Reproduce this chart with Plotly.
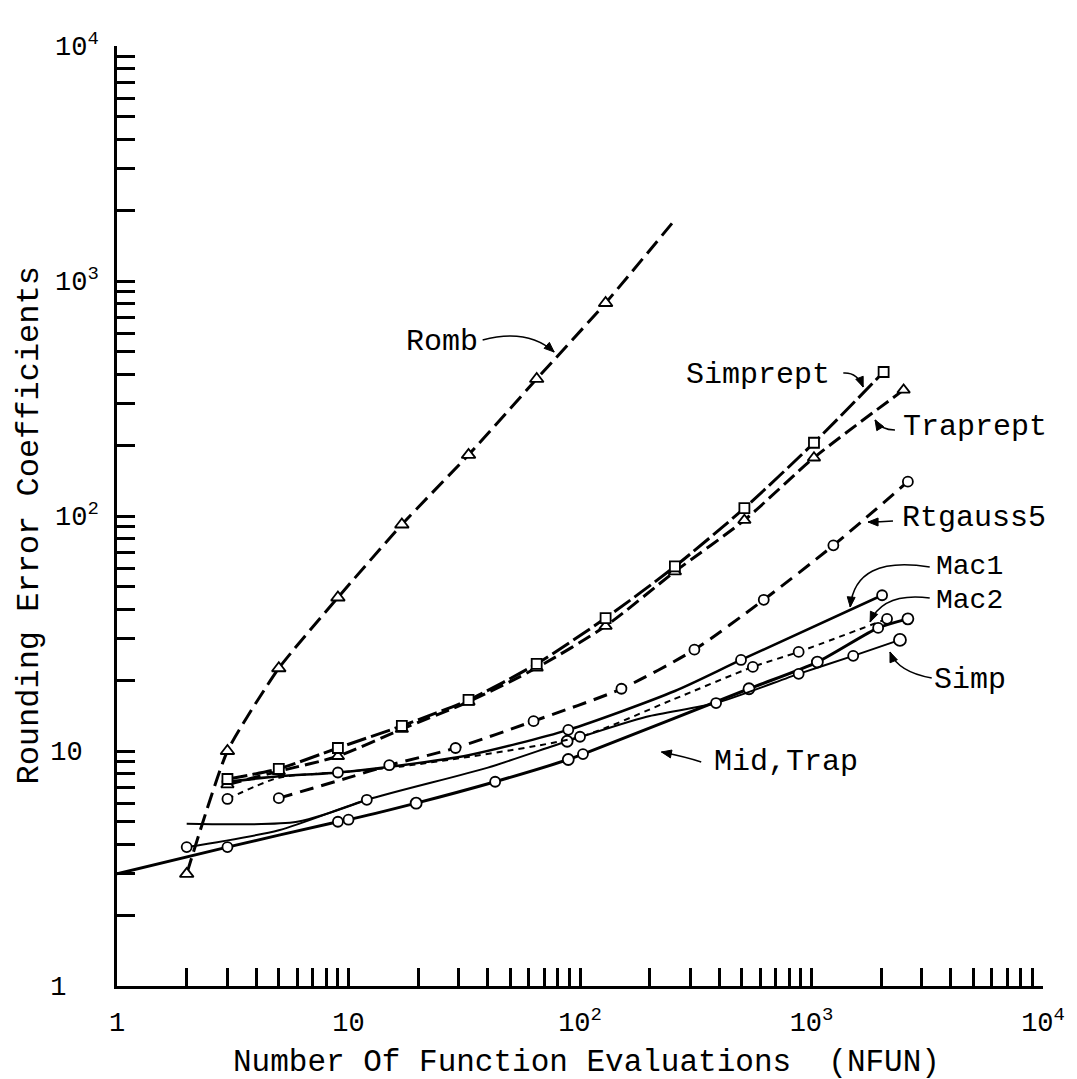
import math
import plotly.graph_objects as go

# ---------------- data ----------------
romb_x = [2, 3, 5, 9, 17, 33, 65, 129, 257]
romb_y = [3.0, 10.0, 22.5, 45, 92, 182, 383, 806, 1820]

simprept_x = [3, 5, 9, 17, 33, 65, 129, 257, 513, 1025, 2049]
simprept_y = [7.6, 8.4, 10.3, 12.8, 16.5, 23.5, 36.8, 61, 108, 205, 410]

traprept_x = [3, 5, 9, 17, 33, 65, 129, 257, 513, 1025, 2500]
traprept_y = [7.2, 8.2, 9.5, 12.4, 16.2, 22.6, 34, 58, 96, 177, 344]

rtgauss5_x = [5, 10, 15, 29, 63, 151, 312, 622, 1243, 2608]
rtgauss5_y = [6.3, 7.7, 8.7, 10.3, 13.4, 18.4, 27, 44, 75, 140]

mac1_x = [3, 5, 9, 17, 33, 89, 257, 496, 2018]
mac1_y = [7.4, 7.8, 8.1, 8.7, 9.6, 12.3, 18, 24.4, 46]

mac2_x = [3, 5, 9, 17, 100, 250, 558, 880, 2120]
mac2_y = [6.25, 7.7, 8.1, 8.6, 11.5, 16.5, 22.8, 26.4, 36.5]

simp_x = [2, 5, 12, 40, 88, 194, 387, 880, 1514, 2410]
simp_y = [3.9, 4.6, 6.2, 8.5, 11.0, 14.0, 16.0, 21.3, 25.4, 29.7]

midtrap_x = [1, 3, 9, 10, 19.6, 43, 89, 103, 537, 1060, 1940, 2608]
midtrap_y = [3.0, 3.9, 5.0, 5.1, 6.0, 7.4, 9.2, 9.7, 18.4, 23.9, 33.4, 36.5]

mid_x = [2, 6, 12]
mid_y = [4.9, 5.0, 6.2]

x_tickvals = [1, 10, 100, 1000, 10000]
x_ticktext = ["1", "10", "10<sup>2</sup>", "10<sup>3</sup>", "10<sup>4</sup>"]
y_tickvals = [1, 10, 100, 1000, 10000]
y_ticktext = ["1\u00a0\u00a0", "10\u00a0", "10<sup>2</sup>", "10<sup>3</sup>", "10<sup>4</sup>"]
minor_vals = [m * 10 ** d for d in range(4) for m in range(2, 10)]

FONT = "Liberation Mono, Courier New, monospace"

# ---------------- geometry helpers (pixel -> paper) ----------------
L, R, T, B = 117, 28, 46, 93
W, H = 1077, 1079
PW, PH = W - L - R, H - T - B


def px(xp):
    return (xp - L) / PW


def py(yp):
    return (T + PH - yp) / PH


fig = go.Figure()


def add_series(x, y, symbol, dash, width, sizes=None, smooth=0.7):
    n = len(x)
    if sizes is None:
        sizes = [11] * n
    fig.add_trace(go.Scatter(
        x=x, y=y, mode="lines+markers" if symbol else "lines",
        line=dict(color="black", width=width, dash=dash, shape="spline",
                  smoothing=smooth),
        marker=dict(symbol=symbol or "circle", size=sizes, color="white",
                    opacity=1,
                    line=dict(color="black", width=1.8)) if symbol else None,
        showlegend=False, hoverinfo="skip"))


add_series(midtrap_x, midtrap_y, "circle", "solid", 3,
           sizes=[0, 10, 10, 10, 11, 10, 11, 10, 11, 11, 10, 11])
add_series(mid_x, mid_y, None, "solid", 2)
add_series(simp_x, simp_y, "circle", "solid", 2,
           sizes=[10, 0, 10, 0, 11, 0, 10, 10, 10, 12])
add_series(mac2_x, mac2_y, "circle", "6px,5px", 2, sizes=[10, 0, 0, 0, 10, 0, 10, 10, 10])
add_series(mac1_x, mac1_y, "circle", "solid", 2.5, sizes=[10, 0, 10, 0, 0, 10, 0, 10, 10])
add_series(rtgauss5_x, rtgauss5_y, "circle", "14px,8px", 3,
           sizes=[10, 0, 10, 10, 10, 10, 10, 10, 10, 10])
add_series(traprept_x, traprept_y, "triangle-up", "14px,6px", 3)
add_series(simprept_x, simprept_y, "square", "20px,5px", 3, sizes=[10] * len(simprept_x))
add_series(romb_x, romb_y, "triangle-up", "16px,7px", 3,
           sizes=[12, 12, 12, 12, 12, 12, 12, 12, 0], smooth=0.5)

axis_common = dict(
    type="log", showgrid=False, zeroline=False, showline=True,
    linecolor="black", linewidth=2.5, mirror=False,
    ticks="inside", ticklen=18, tickwidth=2.5, tickcolor="black",
    tickfont=dict(family=FONT, size=27, color="black"),
    minor=dict(tickvals=minor_vals, ticks="inside", ticklen=18,
               tickwidth=2.5, tickcolor="black", showgrid=False),
    range=[0, 4],
)

fig.update_layout(
    width=W, height=H,
    margin=dict(l=L, r=R, t=T, b=B, pad=0),
    paper_bgcolor="white", plot_bgcolor="white",
    xaxis=dict(**axis_common, tickvals=x_tickvals, ticktext=x_ticktext,
               ticklabelstandoff=10),
    yaxis=dict(**axis_common, tickvals=y_tickvals, ticktext=y_ticktext,
               ticklabelstandoff=10),
)

ann = []


def label(text, cx, cy, size=30, angle=0):
    ann.append(dict(text=text, x=px(cx), y=py(cy), xref="paper", yref="paper",
                    showarrow=False, textangle=angle,
                    font=dict(family=FONT, size=size, color="black"),
                    xanchor="center", yanchor="middle"))


label("Number Of Function Evaluations\u00a0\u00a0(NFUN)", 590, 1062, 31)
label("Rounding Error Coefficients", 28, 526, 32, angle=-90)

label("Romb", 444, 342)
label("Simprept", 762, 375)
label("Traprept", 981, 427)
label("Rtgauss5", 980, 518)
label("Mac1", 975, 566, 28)
label("Mac2", 975, 600, 28)
label("Simp", 976, 680)
label("Mid,Trap", 790, 762)

shapes = []


def curve(p0, c, p1):
    path = "M {} {} Q {} {} {} {}".format(px(p0[0]), py(p0[1]), px(c[0]), py(c[1]),
                                          px(p1[0]), py(p1[1]))
    shapes.append(dict(type="path", path=path, xref="paper", yref="paper",
                       line=dict(color="black", width=1.5)))
    # arrow head along the end tangent (c -> p1), built in pixel space
    dx, dy = p1[0] - c[0], p1[1] - c[1]
    n = math.hypot(dx, dy) or 1.0
    ux, uy = dx / n, dy / n
    hl, hw = 10, 4
    bx, by = p1[0] - ux * hl, p1[1] - uy * hl
    a = (bx - uy * hw, by + ux * hw)
    b = (bx + uy * hw, by - ux * hw)
    head = "M {} {} L {} {} L {} {} Z".format(px(p1[0]), py(p1[1]), px(a[0]), py(a[1]),
                                              px(b[0]), py(b[1]))
    shapes.append(dict(type="path", path=head, xref="paper", yref="paper",
                       fillcolor="black", line=dict(color="black", width=1)))


curve((485, 340), (530, 328), (557, 352))
curve((848, 373), (862, 372), (868, 387))
curve((900, 430), (886, 430), (880, 420))
curve((898, 521), (885, 522), (873, 522))
curve((935, 567), (860, 555), (855, 607))
curve((935, 598), (888, 592), (875, 622))
curve((937, 678), (903, 672), (895, 652))
curve((705, 762), (690, 757), (665, 752))

fig.update_layout(annotations=ann, shapes=shapes)

fig.write_html("out.html")
